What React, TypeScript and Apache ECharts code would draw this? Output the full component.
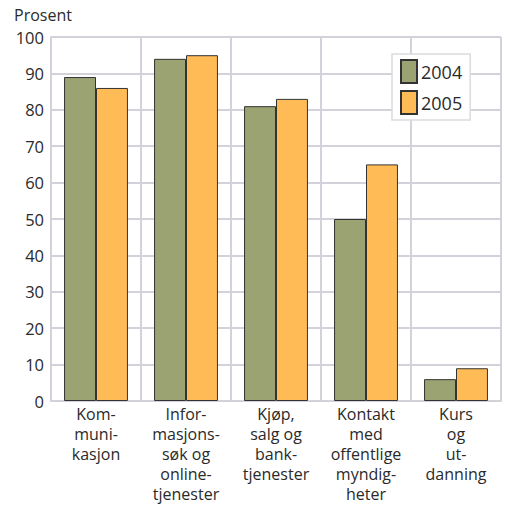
import React, { useEffect, useRef } from "react";
import * as echarts from "echarts";

const categories = [
  "Kom-\nmuni-\nkasjon",
  "Infor-\nmasjons-\nsøk og\nonline-\ntjenester",
  "Kjøp,\nsalg og\nbank-\ntjenester",
  "Kontakt\nmed\noffentlige\nmyndig-\nheter",
  "Kurs\nog\nut-\ndanning",
];
const values2004 = [89, 94, 81, 50, 6];
const values2005 = [86, 95, 83, 65, 9];
const seriesNames = ["2004", "2005"];

const FONT = "'Open Sans', 'Noto Sans', sans-serif";
const GRID_COLOR = "#d2d3da";

export default function App() {
  const ref = useRef<HTMLDivElement>(null);
  useEffect(() => {
    if (!ref.current) return;
    const chart = echarts.init(ref.current, null, { renderer: "svg" });
    chart.setOption({
      animation: false,
      textStyle: { fontFamily: FONT },
      grid: { left: 51, right: 4, top: 37, bottom: 108, containLabel: false },
      graphic: [
        {
          type: "text",
          left: 14,
          top: 7,
          style: { text: "Prosent", fontSize: 16, fill: "#2a2a2a", fontFamily: FONT },
        },
      ],
      legend: {
        orient: "vertical",
        left: 392,
        top: 54,
        icon: "rect",
        itemWidth: 16,
        itemHeight: 23,
        itemGap: 6,
        padding: [5, 8, 5, 8],
        backgroundColor: "#fff",
        borderColor: "#dcdce0",
        borderWidth: 1.5,
        textStyle: { fontSize: 18, color: "#2a2a2a", fontFamily: FONT, padding: [0, 0, 0, -1] },
        data: seriesNames,
      },
      xAxis: {
        type: "category",
        data: categories,
        axisLine: { lineStyle: { color: GRID_COLOR, width: 2 } },
        axisTick: { show: false },
        splitLine: { show: true, lineStyle: { color: GRID_COLOR, width: 2 } },
        axisLabel: {
          interval: 0,
          fontSize: 16,
          lineHeight: 20,
          color: "#2a2a2a",
          margin: 3,
          fontFamily: FONT,
        },
      },
      yAxis: {
        type: "value",
        min: 0,
        max: 100,
        interval: 10,
        axisLine: { show: true, lineStyle: { color: GRID_COLOR, width: 2 } },
        axisTick: { show: false },
        splitLine: { show: true, lineStyle: { color: GRID_COLOR, width: 2 } },
        axisLabel: { fontSize: 16.5, color: "#2a2a2a", margin: 7, fontFamily: FONT },
      },
      series: [
        {
          name: seriesNames[0],
          type: "bar",
          data: values2004,
          barGap: "0%",
          barCategoryGap: "29%",
          itemStyle: { color: "#9ba373", borderColor: "#333", borderWidth: 1 },
        },
        {
          name: seriesNames[1],
          type: "bar",
          data: values2005,
          itemStyle: { color: "#ffbb55", borderColor: "#333", borderWidth: 1 },
        },
      ],
    });
    return () => chart.dispose();
  }, []);
  return (
    <div
      ref={ref}
      style={{ position: "absolute", left: 0, top: 0, width: 505, height: 509, background: "#fff" }}
    />
  );
}
